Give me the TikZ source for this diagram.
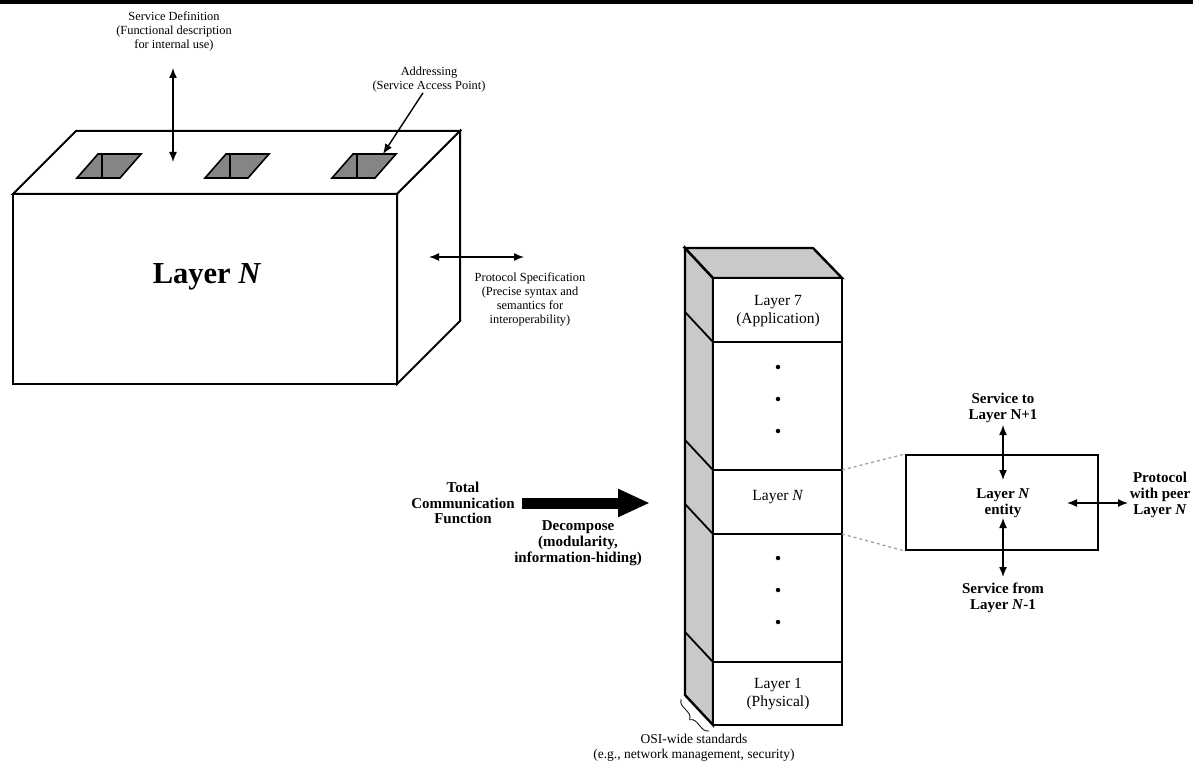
\documentclass[tikz,border=0pt]{standalone}
\usepackage{fontspec}
\setmainfont{Liberation Serif}
\usetikzlibrary{arrows.meta,decorations.pathreplacing}
\definecolor{SlotGray}{HTML}{858585}
\definecolor{SideGray}{HTML}{C9C9CC}
\definecolor{DashGray}{HTML}{9A9A9A}
\tikzset{
  lbl/.style={align=center, inner sep=0pt, font=\fontsize{12.4}{14}\selectfont},
  blbl/.style={align=center, inner sep=0pt, font=\bfseries\fontsize{15}{15.8}\selectfont},
  stk/.style={align=center, inner sep=0pt, font=\fontsize{15.5}{17.5}\selectfont},
  edge/.style={line width=2pt, line join=miter},
  dbl/.style={line width=1.4pt, {Latex[length=10pt,width=8pt]}-{Latex[length=10pt,width=8pt]}},
  slot/.style={draw, line width=1.6pt, fill=SlotGray},
  dot/.style={circle, fill=black, inner sep=0pt, minimum size=4.5pt},
}
\begin{document}
\begin{tikzpicture}[x=1pt,y=-1pt]%
\useasboundingbox (0,0) rectangle (1193,767);%
\fill (0,0) rectangle (1193,4);%
% the layer block
\draw[edge, fill=white] (13,194) rectangle (397,384);%
\draw[edge, fill=white] (13,194) -- (76,131) -- (460,131) -- (397,194) -- cycle;%
\draw[edge, fill=white] (397,194) -- (460,131) -- (460,321) -- (397,384) -- cycle;%
\foreach \sx/\nm in {77/slotA,205/slotB,332/slotC} {%
  \draw[slot] (\sx,178) -- ++(43,0) -- ++(21,-24) -- ++(-43,0) -- cycle;%
  \draw[line width=1.4pt] (\sx+25,154) -- (\sx+25,178);%
  \coordinate (\nm) at (\sx+51,154);%
}%
\node[font=\bfseries\fontsize{30.5}{32}\selectfont] (layerN) at (207,277) {Layer \textit{N}};%
\node[lbl] (svcdef) at (174,31) {Service Definition\\(Functional description\\for internal use)};%
\coordinate (sdtop) at (173,68);%
\coordinate (sdbot) at (173,162);%
\draw[dbl] (sdtop) -- (sdbot);%
\node[lbl] (addr) at (429,80) {Addressing\\(Service Access Point)};%
\draw[line width=1.4pt, -{Latex[length=10pt,width=8pt]}] ([xshift=-6pt]addr.south) -- (slotC);%
\node[lbl] (protspec) at (530,299) {Protocol Specification\\(Precise syntax and\\semantics for\\interoperability)};%
\coordinate (psl) at (429,257);%
\coordinate (psr) at (524,257);%
\draw[dbl] (psl) -- (psr);%
% the stack
\draw[edge, line width=2.4pt, fill=SideGray] (685,248) -- (713,278) -- (713,725) -- (685,695) -- cycle;%
\draw[edge, line width=2.4pt, fill=SideGray] (685,248) -- (813,248) -- (842,278) -- (713,278) -- cycle;%
\draw[edge, line width=2.4pt, fill=white] (713,278) rectangle (842,725);%
\foreach \by in {342,470,534,662} {%
  \draw[line width=1.8pt] (685,\by-30) -- (713,\by) -- (842,\by);%
  \coordinate (b\by) at (842,\by);%
}%
\node[stk] (L7) at (778,311) {Layer 7\\(Application)};%
\node[stk] (LN) at (778,497) {Layer \textit{N}};%
\node[stk] (L1) at (778,694) {Layer 1\\(Physical)};%
\foreach \dy in {367,399,431,558,590,622} {%
  \node[dot] (dot\dy) at (778,\dy) {};%
}%
\draw[line width=0.8pt, decorate, decoration={brace, amplitude=7pt}] (709,731) -- (681,699);%
\node[stk, font=\fontsize{13.5}{15}\selectfont] (osi) at (694,748) {OSI-wide standards\\(e.g., network management, security)};%
% decomposition
\node[blbl] (total) at (463,503) {Total\\Communication\\Function};%
\coordinate (bigA) at (522,503);%
\coordinate (bigB) at (650,503);%
\draw[line width=11pt, -{Triangle[length=32pt,width=26pt]}] (bigA) -- (bigB);%
\node[blbl] (decomp) at (578,543) {Decompose\\(modularity,\\information-hiding)};%
% the layer N entity
\node[draw, line width=2pt, minimum width=192pt, minimum height=95pt, inner sep=0pt] (entitybox) at (1002,502.5) {};%
\node[blbl] (entity) at (1003,503) {Layer \textit{N}\\entity};%
\draw[dashed, DashGray, line width=1.2pt] (b470) -- (entitybox.north west);%
\draw[dashed, DashGray, line width=1.2pt] (b534) -- (entitybox.south west);%
\coordinate (upA) at (1003,425);%
\coordinate (upB) at (1003,480);%
\coordinate (dnA) at (1003,518);%
\coordinate (dnB) at (1003,577);%
\coordinate (prA) at (1067,503);%
\coordinate (prB) at (1128,503);%
\draw[dbl] (upA) -- (upB);%
\draw[dbl] (dnA) -- (dnB);%
\draw[dbl] (prA) -- (prB);%
\node[blbl] (svcup) at (1003,408) {Service to\\Layer N+1};%
\node[blbl] (svcdown) at (1003,598) {Service from\\Layer \textit{N}-1};%
\node[blbl] (peer) at (1160,495) {Protocol\\with peer\\Layer \textit{N}};%
\end{tikzpicture}
\end{document}
